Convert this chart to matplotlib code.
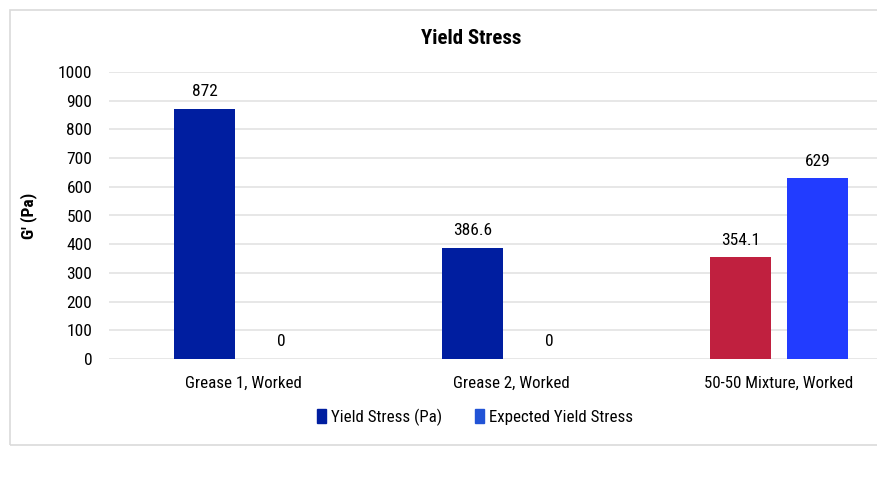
import numpy as np
import matplotlib.pyplot as plt
from matplotlib.patches import Rectangle
from matplotlib import font_manager

categories = ["Grease 1, Worked", "Grease 2, Worked", "50-50 Mixture, Worked"]
yield_stress = [872, 386.6, 354.1]
expected_stress = [0, 0, 629]
yield_colors = ["#001EA0", "#001EA0", "#C0203F"]

names = {f.name for f in font_manager.fontManager.ttflist}
fam = "DejaVu Sans"
for cand in ["Roboto Condensed", "Liberation Sans Narrow", "Archivo Narrow", "Barlow Semi Condensed"]:
    if cand in names:
        fam = cand
        break
plt.rcParams['font.family'] = [fam, 'DejaVu Sans']
fs = 12.2

fig = plt.figure(figsize=(8.77, 4.78), dpi=100)
# chart frame
fig.patches.append(Rectangle((10/877, 33/478), 1.0, 435/478, transform=fig.transFigure,
                             fill=False, edgecolor="#DADADA", linewidth=1.2))
ax = fig.add_axes([109/877, 119/478, 804/877, 287/478])

x = np.arange(len(categories))
w = 0.224
off = 0.1437
b1 = ax.bar(x - off, yield_stress, w, color=yield_colors, zorder=3)
b2 = ax.bar(x + off, expected_stress, w, color="#223CFF", zorder=3)

for bars, vals in ((b1, yield_stress), (b2, expected_stress)):
    for r, v in zip(bars, vals):
        ax.annotate(f"{v:g}", (r.get_x() + r.get_width()/2, v), xytext=(0, 7),
                    textcoords="offset points", ha="center", va="bottom", fontsize=12.5)

ax.set_xlim(-0.5, 2.5)
ax.set_ylim(0, 1000)
ax.set_yticks(range(0, 1001, 100))
ax.set_xticks(x)
ax.set_xticklabels(categories)
ax.tick_params(length=0, labelsize=fs)
ax.tick_params(axis='y', labelsize=12.5, pad=12)
ax.tick_params(axis='x', pad=12)
ax.grid(axis='y', color="#E3E3E3", linewidth=1.2, zorder=0)
for s in ax.spines.values():
    s.set_visible(False)
ax.set_ylabel("G' (Pa)", fontsize=12.5, fontweight='bold')
ax.yaxis.set_label_coords((37 - 109)/804, 0.5)
ax.set_title("Yield Stress", fontsize=15, fontweight='bold', pad=20, x=(471-109)/804)

leg = ax.legend(handles=[b1[0], b2[0]], labels=["Yield Stress (Pa)", "Expected Yield Stress"],
                loc="center", bbox_to_anchor=(475/877, 61/478), bbox_transform=fig.transFigure,
                ncol=2, frameon=False, fontsize=fs, handlelength=0.55, handleheight=0.9,
                handletextpad=0.3, columnspacing=1.9)
leg.legend_handles[0].set_color("#001EA0")
leg.legend_handles[1].set_color("#2153D6")

fig.savefig("out.png", dpi=100)
